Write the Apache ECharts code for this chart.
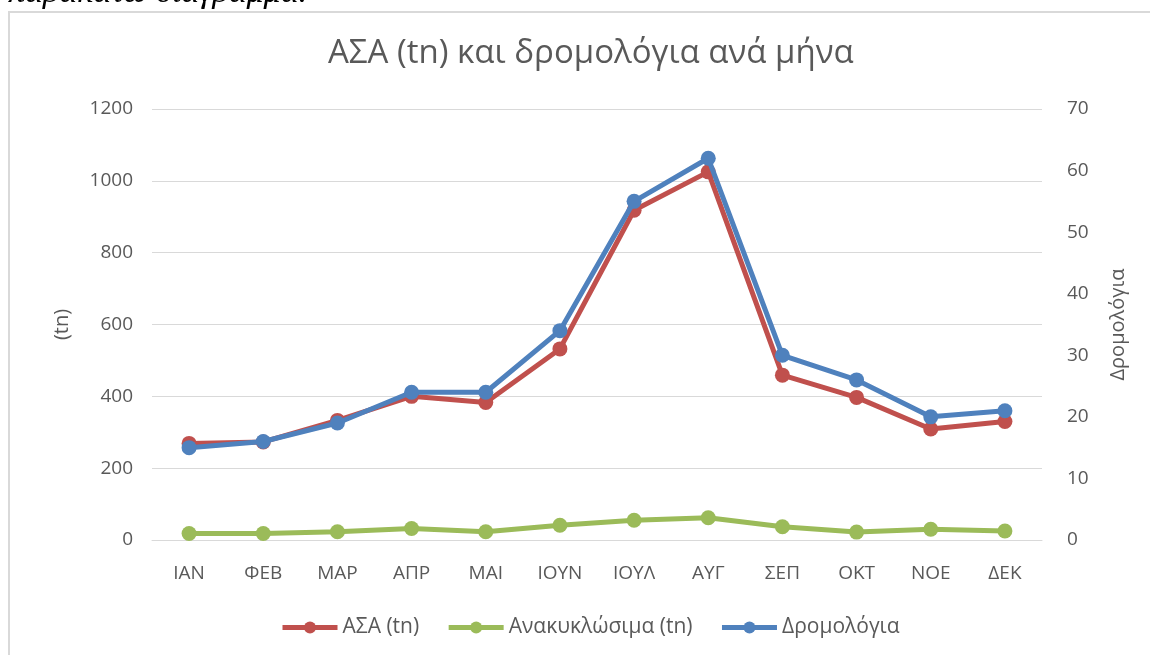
<!DOCTYPE html>
<html>
<head>
<meta charset="utf-8">
<script src="https://cdn.jsdelivr.net/npm/echarts@6/dist/echarts.min.js"></script>
<style>
html,body{margin:0;padding:0;background:#fff;}
#c{width:1150px;height:655px;}
</style>
</head>
<body>
<div id="c"></div>
<script>
const months = ['ΙΑΝ','ΦΕΒ','ΜΑΡ','ΑΠΡ','ΜΑΙ','ΙΟΥΝ','ΙΟΥΛ','ΑΥΓ','ΣΕΠ','ΟΚΤ','ΝΟΕ','ΔΕΚ'];
const asa = [269, 273, 333, 400, 383, 532, 918, 1025, 459, 397, 309, 330];
const recycl = [18, 18, 23, 32, 23, 41, 55, 62, 37, 22, 30, 25];
const routes = [15, 16, 19, 24, 24, 34, 55, 62, 30, 26, 20, 21];
const leftTicks = {min: 0, max: 1200, interval: 200};
const rightTicks = {min: 0, max: 70, interval: 10};

const txt = '#595959';
const font = 'Open Sans';
const chart = echarts.init(document.getElementById('c'));
const mk = (name, data, color, axis, z) => ({
  name, type: 'line', data, yAxisIndex: axis, z,
  symbol: 'circle', symbolSize: 15,
  lineStyle: {color, width: 5},
  itemStyle: {color},
  emphasis: {disabled: true}
});
chart.setOption({
  animation: false,
  textStyle: {fontFamily: font},
  graphic: [
    {type: 'rect', shape: {x: 9, y: 12, width: 1200, height: 700},
     style: {fill: 'none', stroke: '#d9d9d9', lineWidth: 2}},
    {type: 'text', x: 8, y: 10,
     style: {text: 'παρακάτω διάγραμμα.', font: 'italic 34px "Liberation Serif"', fill: '#000', verticalAlign: 'bottom'}}
  ],
  title: {text: 'ΑΣΑ (tn) και δρομολόγια ανά μήνα', left: 323, top: 32,
    textStyle: {color: txt, fontSize: 33, fontWeight: 'normal', fontFamily: font}},
  legend: {top: 612, left: 275, itemWidth: 55, itemHeight: 15, itemGap: 27,
    lineStyle: {width: 5},
    textStyle: {color: txt, fontSize: 21, fontFamily: font},
    data: ['ΑΣΑ (tn)', 'Ανακυκλώσιμα (tn)', 'Δρομολόγια']},
  grid: {left: 152, right: 108, top: 109, bottom: 115},
  xAxis: {type: 'category', data: months, boundaryGap: true,
    axisLine: {show: true, lineStyle: {color: '#d9d9d9'}}, axisTick: {show: false},
    axisLabel: {color: txt, fontSize: 19, margin: 24}},
  yAxis: [
    {type: 'value', ...leftTicks, position: 'left',
     name: '(tn)', nameLocation: 'middle', nameRotate: 90, nameGap: 80,
     nameTextStyle: {color: txt, fontSize: 20},
     axisLine: {show: false}, axisTick: {show: false},
     axisLabel: {color: txt, fontSize: 19, margin: 19, formatter: v => String(v)},
     splitLine: {lineStyle: {color: '#d9d9d9', width: 1}}},
    {type: 'value', ...rightTicks, position: 'right',
     name: 'Δρομολόγια', nameLocation: 'middle', nameRotate: 90, nameGap: 66,
     nameTextStyle: {color: txt, fontSize: 20},
     axisLine: {show: false}, axisTick: {show: false},
     axisLabel: {color: txt, fontSize: 19, margin: 25, formatter: v => String(v)},
     splitLine: {show: false}}
  ],
  series: [
    mk('ΑΣΑ (tn)', asa, '#C0504D', 0, 2),
    mk('Ανακυκλώσιμα (tn)', recycl, '#9BBB59', 0, 2),
    mk('Δρομολόγια', routes, '#4F81BD', 1, 3)
  ]
});
</script>
</body>
</html>
